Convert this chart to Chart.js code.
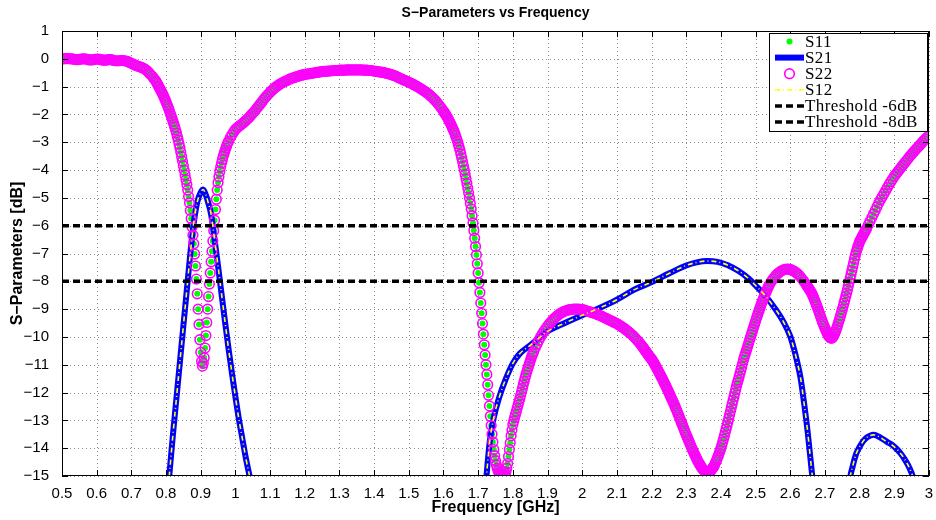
<!DOCTYPE html>
<html>
<head>
<meta charset="utf-8">
<script src="https://cdn.jsdelivr.net/npm/chart.js@4.4.1/dist/chart.umd.min.js"></script>
<style>
html, body { margin: 0; padding: 0; background: #fff; }
#wrap { width: 936px; height: 520px; }
</style>
</head>
<body>
<div id="wrap"><canvas id="sparams" width="936" height="520"></canvas></div>
<script>
// S11 / S22 sampled every 5 MHz from 0.5 GHz
var freqStart = 0.5;
var freqStep = 0.005;
var s11 = [
  0.00, 0.00, 0.01, 0.01, 0.01, 0.00, 0.00, -0.02, -0.03, -0.03,
  -0.02, -0.01, 0.00, 0.00, -0.01, -0.03, -0.04, -0.04, -0.03, -0.02,
  -0.01, -0.01, -0.02, -0.04, -0.05, -0.05, -0.04, -0.03, -0.03, -0.04,
  -0.06, -0.07, -0.07, -0.07, -0.06, -0.06, -0.07, -0.08, -0.10, -0.13,
  -0.16, -0.19, -0.22, -0.25, -0.27, -0.29, -0.31, -0.34, -0.38, -0.43,
  -0.49, -0.56, -0.63, -0.71, -0.79, -0.90, -1.02, -1.14, -1.26, -1.40,
  -1.55, -1.71, -1.88, -2.06, -2.25, -2.45, -2.67, -2.92, -3.20, -3.52,
  -3.85, -4.18, -4.52, -4.95, -5.45, -6.05, -6.65, -7.45, -8.45, -9.55,
  -10.55, -11.05, -10.75, -9.95, -9.00, -8.10, -7.30, -6.55, -5.80, -5.05,
  -4.45, -4.05, -3.75, -3.50, -3.30, -3.12, -2.97, -2.84, -2.73, -2.63,
  -2.54, -2.48, -2.43, -2.38, -2.33, -2.28, -2.22, -2.16, -2.10, -2.03,
  -1.96, -1.89, -1.81, -1.73, -1.65, -1.57, -1.49, -1.41, -1.34, -1.27,
  -1.20, -1.14, -1.08, -1.03, -0.98, -0.94, -0.90, -0.86, -0.83, -0.80,
  -0.77, -0.74, -0.71, -0.69, -0.67, -0.65, -0.63, -0.61, -0.59, -0.58,
  -0.56, -0.55, -0.54, -0.53, -0.52, -0.51, -0.50, -0.49, -0.48, -0.47,
  -0.46, -0.45, -0.45, -0.44, -0.44, -0.43, -0.43, -0.42, -0.42, -0.42,
  -0.41, -0.41, -0.41, -0.41, -0.40, -0.40, -0.40, -0.40, -0.40, -0.40,
  -0.40, -0.40, -0.40, -0.40, -0.41, -0.41, -0.41, -0.42, -0.42, -0.43,
  -0.44, -0.45, -0.46, -0.47, -0.48, -0.49, -0.50, -0.52, -0.53, -0.55,
  -0.57, -0.59, -0.61, -0.64, -0.67, -0.70, -0.73, -0.76, -0.78, -0.81,
  -0.84, -0.87, -0.90, -0.93, -0.97, -1.00, -1.04, -1.08, -1.12, -1.16,
  -1.20, -1.25, -1.30, -1.36, -1.42, -1.48, -1.55, -1.63, -1.71, -1.79,
  -1.88, -1.98, -2.08, -2.20, -2.32, -2.46, -2.60, -2.77, -2.95, -3.17,
  -3.42, -3.70, -4.00, -4.32, -4.65, -5.00, -5.40, -5.90, -6.45, -7.05,
  -7.70, -8.40, -9.15, -9.90, -10.65, -11.35, -12.10, -12.85, -13.50, -14.05,
  -14.45, -14.72, -14.88, -14.95, -14.97, -14.95, -14.85, -14.55, -14.05, -13.55,
  -13.15, -12.90, -12.68, -12.45, -12.22, -11.98, -11.72, -11.48, -11.26, -11.06,
  -10.87, -10.68, -10.52, -10.38, -10.25, -10.12, -10.00, -9.89, -9.79, -9.70,
  -9.61, -9.53, -9.46, -9.39, -9.33, -9.27, -9.22, -9.17, -9.13, -9.10,
  -9.07, -9.05, -9.03, -9.02, -9.01, -9.00, -9.00, -9.00, -9.00, -9.01,
  -9.02, -9.03, -9.05, -9.07, -9.09, -9.11, -9.13, -9.15, -9.17, -9.20,
  -9.22, -9.25, -9.28, -9.31, -9.34, -9.37, -9.40, -9.43, -9.46, -9.49,
  -9.52, -9.56, -9.60, -9.64, -9.68, -9.73, -9.78, -9.83, -9.88, -9.94,
  -10.00, -10.07, -10.14, -10.21, -10.29, -10.37, -10.46, -10.55, -10.64, -10.72,
  -10.80, -10.90, -11.01, -11.12, -11.24, -11.36, -11.48, -11.61, -11.74, -11.87,
  -12.00, -12.14, -12.28, -12.42, -12.57, -12.72, -12.88, -13.04, -13.20, -13.36,
  -13.52, -13.67, -13.82, -13.97, -14.11, -14.25, -14.38, -14.50, -14.61, -14.71,
  -14.79, -14.85, -14.88, -14.87, -14.82, -14.73, -14.65, -14.50, -14.35, -14.18,
  -14.00, -13.78, -13.55, -13.31, -13.06, -12.80, -12.54, -12.28, -12.02, -11.76,
  -11.55, -11.31, -11.07, -10.83, -10.62, -10.42, -10.22, -10.02, -9.82, -9.62,
  -9.43, -9.24, -9.05, -8.87, -8.70, -8.54, -8.39, -8.25, -8.12, -8.01,
  -7.92, -7.84, -7.77, -7.71, -7.66, -7.62, -7.59, -7.57, -7.56, -7.56,
  -7.57, -7.60, -7.63, -7.67, -7.72, -7.78, -7.85, -7.93, -8.01, -8.10,
  -8.19, -8.29, -8.39, -8.52, -8.67, -8.83, -9.00, -9.18, -9.36, -9.53,
  -9.69, -9.83, -9.95, -10.03, -10.04, -9.96, -9.82, -9.64, -9.44, -9.23,
  -9.01, -8.78, -8.54, -8.29, -8.03, -7.76, -7.48, -7.20, -6.95, -6.75,
  -6.57, -6.45, -6.33, -6.22, -6.10, -5.97, -5.84, -5.71, -5.58, -5.45,
  -5.32, -5.19, -5.07, -4.96, -4.85, -4.74, -4.63, -4.52, -4.42, -4.32,
  -4.22, -4.14, -4.06, -3.98, -3.90, -3.82, -3.74, -3.66, -3.58, -3.50,
  -3.43, -3.36, -3.29, -3.22, -3.15, -3.08, -3.01, -2.94, -2.88, -2.82,
  -2.76
];
// extra in-between samples (2.5 MHz offset) where the trace is steep
var s11MidStart = [0.7725, 1.6025, 2.1725, 2.6475];
var s11MidDb = [
  [ -0.84, -0.96, -1.08, -1.20, -1.33, -1.47, -1.63, -1.79, -1.97, -2.15,
    -2.35, -2.56, -2.79, -3.06, -3.36, -3.68, -4.01, -4.35,
    -4.72, -5.18, -5.74, -6.34, -7.02, -7.92, -9.00, -10.10, -10.88,
    -10.95, -10.40, -9.48, -8.55, -7.70, -6.92, -6.18, -5.42, -4.72,
    -4.24, -3.89, -3.62, -3.40, -3.21, -3.04 ],
  [ -1.93, -2.03, -2.14, -2.26, -2.39, -2.53, -2.68, -2.86, -3.06, -3.29,
    -3.56, -3.85, -4.16, -4.48, -4.82,
    -5.20, -5.64, -6.17, -6.75, -7.37, -8.05, -8.78, -9.52, -10.28,
    -11.00, -11.72, -12.48, -13.18, -13.78, -14.27, -14.60, -14.81, -14.92,
    -14.96, -14.96, -14.91, -14.72, -14.30, -13.80, -13.35,
    -13.02, -12.79, -12.56, -12.33, -12.10, -11.85, -11.60, -11.37, -11.16, -10.96,
    -10.77, -10.60 ],
  [ -10.33, -10.41, -10.50, -10.59, -10.68, -10.76,
    -10.85, -10.95, -11.06, -11.18, -11.30, -11.42, -11.54, -11.67, -11.80, -11.93,
    -12.07, -12.21, -12.35, -12.49, -12.64, -12.80, -12.96, -13.12, -13.28, -13.44,
    -13.59, -13.74, -13.89, -14.04, -14.18, -14.31, -14.44, -14.55, -14.66, -14.75,
    -14.82, -14.87, -14.88, -14.85, -14.78, -14.69, -14.58, -14.43, -14.27, -14.09,
    -13.89, -13.67, -13.43, -13.19, -12.93, -12.67, -12.41, -12.15, -11.89, -11.65,
    -11.43, -11.19, -10.95, -10.72, -10.52, -10.32, -10.12, -9.92, -9.72, -9.52,
    -9.33, -9.14, -8.96, -8.78, -8.62, -8.46, -8.32, -8.18 ],
  [ -8.14, -8.24, -8.34, -8.45, -8.59, -8.75, -8.91, -9.09, -9.27, -9.45,
    -9.61, -9.76, -9.89, -9.99, -10.04, -10.01, -9.89, -9.73, -9.54, -9.34,
    -9.12, -8.90, -8.66, -8.42, -8.16, -7.90, -7.62, -7.34, -7.07, -6.85,
    -6.66, -6.51, -6.39, -6.27, -6.16 ]
];
// S22 lies on top of S11 in the picture
var s22 = s11.slice();
var s22MidDb = s11MidDb.map(function (seg) { return seg.slice(); });

// S21 (null = break between the visible lobes)
var s21Freq = [
  0.79, 0.80, 0.81, 0.82, 0.83, 0.84, 0.85, 0.86, 0.87, 0.88, 0.89, 0.90, 0.907,
  0.915, 0.92, 0.93, 0.94, 0.95, 0.96, 0.97, 0.98, 0.99, 1.00, 1.01, 1.02, 1.03,
  1.04, 1.05, 1.06,
  1.40,
  1.70, 1.715, 1.724, 1.733, 1.745, 1.76, 1.78, 1.80, 1.82, 1.85, 1.90, 1.95,
  2.00, 2.05, 2.10, 2.15, 2.20, 2.25, 2.30, 2.33, 2.36, 2.39, 2.42, 2.45, 2.48,
  2.50, 2.53, 2.56, 2.58, 2.60, 2.61, 2.62, 2.63, 2.64, 2.65, 2.66, 2.665, 2.675,
  2.72,
  2.76, 2.77, 2.78, 2.79, 2.80, 2.81, 2.82, 2.83, 2.84, 2.85, 2.86, 2.87, 2.88,
  2.89, 2.90, 2.91, 2.92, 2.93, 2.94, 2.95, 2.96, 2.97
];
var s21Db = [
  -17.6, -16.25, -14.9, -13.5, -12.2, -10.9, -9.6, -8.3, -7.0, -5.9, -5.15, -4.8, -4.7,
  -4.9, -5.1, -5.6, -6.5, -7.45, -8.45, -9.45, -10.4, -11.3, -12.15, -12.95, -13.65, -14.35,
  -14.95, -15.5, -16.1,
  null,
  -18.6, -16.3, -15.0, -13.8, -12.9, -12.2, -11.5, -10.95, -10.6, -10.3, -9.8, -9.5,
  -9.22, -8.96, -8.66, -8.3, -8.03, -7.72, -7.43, -7.32, -7.27, -7.3, -7.42, -7.62, -7.9,
  -8.15, -8.55, -9.05, -9.45, -9.98, -10.4, -10.9, -11.5, -12.4, -13.4, -14.6, -15.2, -16.6,
  null,
  -17.2, -15.3, -14.65, -14.2, -13.95, -13.75, -13.62, -13.55, -13.52, -13.55, -13.62, -13.7, -13.78,
  -13.85, -13.95, -14.07, -14.22, -14.4, -14.62, -14.9, -15.25, -15.6
];
// S12 coincides with S21
var s12Db = s21Db.slice();

var thrFreq = [0.5, 3.0];
var thr6 = [-6, -6];
var thr8 = [-8, -8];

var xTicks = { min: 0.5, max: 3, step: 0.1 };
var yTicks = { min: -15, max: 1, step: 1 };

function pairs(fs, vs) {
  return fs.map(function (f, i) { return { x: f, y: vs[i] }; });
}
function gridPoints(start, vals) {
  return vals.map(function (v, i) { return { x: +(start + i * freqStep).toFixed(4), y: v }; });
}
function sParam(coarse, mids) {
  var pts = gridPoints(freqStart, coarse);
  mids.forEach(function (seg, k) { pts = pts.concat(gridPoints(s11MidStart[k], seg)); });
  return pts.sort(function (a, b) { return a.x - b.x; });
}

var SANS = '"Liberation Sans", Arial, Helvetica, sans-serif';

var gridAndFrame = {
  id: 'gridAndFrame',
  beforeDatasetsDraw: function (chart) {
    var ctx = chart.ctx, a = chart.chartArea;
    var sx = chart.scales.x, sy = chart.scales.y;
    ctx.save();
    ctx.strokeStyle = '#8c8c8c';
    ctx.lineWidth = 1;
    ctx.setLineDash([1, 3]);
    sx.ticks.forEach(function (t) {
      var px = Math.round(sx.getPixelForValue(t.value)) + 0.5;
      ctx.beginPath(); ctx.moveTo(px, a.top); ctx.lineTo(px, a.bottom); ctx.stroke();
    });
    sy.ticks.forEach(function (t) {
      var py = Math.round(sy.getPixelForValue(t.value)) + 0.5;
      ctx.beginPath(); ctx.moveTo(a.left, py); ctx.lineTo(a.right, py); ctx.stroke();
    });
    ctx.restore();
  },
  afterDatasetsDraw: function (chart) {
    var ctx = chart.ctx, a = chart.chartArea;
    var sx = chart.scales.x, sy = chart.scales.y;
    var tl = 6;
    ctx.save();
    ctx.setLineDash([]);
    ctx.strokeStyle = '#000';
    ctx.lineWidth = 1;
    sx.ticks.forEach(function (t) {
      var px = Math.round(sx.getPixelForValue(t.value)) + 0.5;
      ctx.beginPath();
      ctx.moveTo(px, a.bottom); ctx.lineTo(px, a.bottom - tl);
      ctx.moveTo(px, a.top); ctx.lineTo(px, a.top + tl);
      ctx.stroke();
    });
    sy.ticks.forEach(function (t) {
      var py = Math.round(sy.getPixelForValue(t.value)) + 0.5;
      ctx.beginPath();
      ctx.moveTo(a.left, py); ctx.lineTo(a.left + tl, py);
      ctx.moveTo(a.right, py); ctx.lineTo(a.right - tl, py);
      ctx.stroke();
    });
    ctx.strokeRect(Math.round(a.left) + 0.5, Math.round(a.top) + 0.5,
      Math.round(a.right - a.left) - 1, Math.round(a.bottom - a.top) - 1);
    ctx.restore();
  }
};

var boxLegend = {
  id: 'boxLegend',
  afterDraw: function (chart) {
    var ctx = chart.ctx, a = chart.chartArea;
    var w = 158, h = 98;
    var left = Math.round(a.right - 2 - w), top = Math.round(a.top + 1.5);
    ctx.save();
    ctx.setLineDash([]);
    ctx.fillStyle = '#fff';
    ctx.fillRect(left, top, w, h);
    ctx.strokeStyle = '#000';
    ctx.lineWidth = 1;
    ctx.strokeRect(left + 0.5, top + 0.5, w, h);
    ctx.font = '17px "Liberation Serif", "Times New Roman", serif';
    if ('letterSpacing' in ctx) ctx.letterSpacing = '0.4px';
    ctx.textBaseline = 'middle';
    chart.data.datasets.forEach(function (ds, i) {
      var cy = top + 8.5 + i * 16.1;
      var x1 = left + 6, x2 = left + 35, cx = (x1 + x2) / 2;
      ctx.save();
      if (ds.showLine) {
        ctx.strokeStyle = ds.borderColor;
        ctx.lineWidth = ds.borderWidth;
        ctx.setLineDash(ds.borderDash || []);
        ctx.beginPath(); ctx.moveTo(x1, cy); ctx.lineTo(x2, cy); ctx.stroke();
      } else {
        ctx.beginPath();
        ctx.arc(cx, cy, ds.pointRadius, 0, Math.PI * 2);
        if (ds.pointBorderWidth > 0) {
          ctx.lineWidth = ds.pointBorderWidth;
          ctx.strokeStyle = ds.pointBorderColor;
          ctx.stroke();
        } else {
          ctx.fillStyle = ds.pointBackgroundColor;
          ctx.fill();
        }
      }
      ctx.restore();
      ctx.fillStyle = '#000';
      ctx.fillText(ds.label, x2 + 1, cy + 1);
    });
    ctx.restore();
  }
};

new Chart(document.getElementById('sparams'), {
  type: 'scatter',
  data: {
    datasets: [
      { label: 'S11', data: sParam(s11, s11MidDb), showLine: false,
        pointRadius: 3, pointBorderWidth: 0, pointBackgroundColor: '#00ff00',
        order: 5, clip: 0 },
      { label: 'S21', data: pairs(s21Freq, s21Db), showLine: true, spanGaps: false,
        borderColor: '#0000ff', borderWidth: 6, pointRadius: 0,
        cubicInterpolationMode: 'monotone', order: 4, clip: 0 },
      { label: 'S22', data: sParam(s22, s22MidDb), showLine: false,
        pointRadius: 4.8, pointBorderWidth: 1.6, pointBorderColor: '#ff00ff',
        pointBackgroundColor: 'rgba(0,0,0,0)', order: 3, clip: 0 },
      { label: 'S12', data: pairs(s21Freq, s12Db), showLine: true, spanGaps: false,
        borderColor: '#ffff00', borderWidth: 1.6, borderDash: [5, 3, 1, 3], pointRadius: 0,
        cubicInterpolationMode: 'monotone', order: 2, clip: 0 },
      { label: 'Threshold -6dB', data: pairs(thrFreq, thr6), showLine: true,
        borderColor: '#000', borderWidth: 3.5, borderDash: [7, 4], pointRadius: 0,
        order: 1, clip: 0 },
      { label: 'Threshold -8dB', data: pairs(thrFreq, thr8), showLine: true,
        borderColor: '#000', borderWidth: 3.5, borderDash: [7, 4], pointRadius: 0,
        order: 0, clip: 0 }
    ]
  },
  options: {
    responsive: false,
    animation: false,
    devicePixelRatio: 1,
    events: [],
    layout: { padding: { top: 0, right: 7, left: 0, bottom: 0 } },
    plugins: {
      legend: { display: false },
      tooltip: { enabled: false },
      title: {
        display: true,
        text: 'S\u2212Parameters vs Frequency',
        fullSize: false,
        color: '#000',
        font: { family: SANS, size: 14, weight: 'bold' },
        padding: { top: 5, bottom: 9.2 }
      }
    },
    scales: {
      x: {
        type: 'linear',
        min: xTicks.min, max: xTicks.max,
        afterFit: function (s) { s.height = 44; },
        grid: { display: false },
        border: { display: false },
        ticks: {
          stepSize: xTicks.step, autoSkip: false, maxRotation: 0, padding: 1,
          color: '#000', font: { family: SANS, size: 15 },
          callback: function (v) { return String(Math.round(v * 10) / 10); }
        },
        title: {
          display: true, text: 'Frequency [GHz]', color: '#000',
          font: { family: SANS, size: 16, weight: 'bold' },
          padding: { top: 0, bottom: 3 }
        }
      },
      y: {
        type: 'linear',
        min: yTicks.min, max: yTicks.max,
        afterFit: function (s) { s.width = 62; },
        grid: { display: false },
        border: { display: false },
        ticks: {
          stepSize: yTicks.step, padding: 5,
          color: '#000', font: { family: SANS, size: 15 },
          callback: function (v) { return String(v).replace('-', '\u2212'); }
        },
        title: {
          display: true, text: 'S\u2212Parameters [dB]', color: '#000',
          font: { family: SANS, size: 16, weight: 'bold' },
          padding: { top: 8, bottom: 0 }
        }
      }
    }
  },
  plugins: [gridAndFrame, boxLegend]
});
</script>
</body>
</html>
